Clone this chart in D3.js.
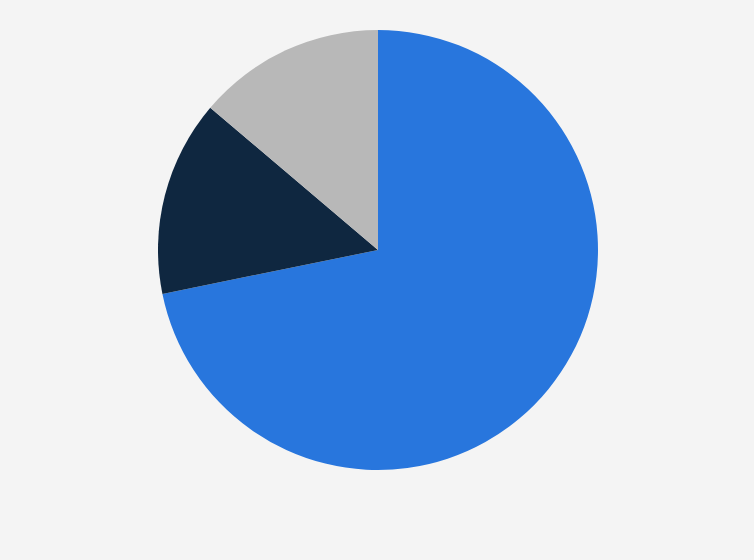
<!DOCTYPE html>
<html>
<head>
<meta charset="utf-8">
<script src="https://cdn.jsdelivr.net/npm/d3@7"></script>
<style>
  html, body { margin: 0; padding: 0; background: #f4f4f4; }
</style>
</head>
<body>
<svg id="chart"></svg>
<script>
const categories = ['Segment A', 'Segment B', 'Segment C'];
const values = [71.8, 14.4, 13.8];
const colors = ['#2876dd', '#0f2740', '#b8b8b8'];

const width = 754;
const height = 560;
const cx = 378;
const cy = 250;
const radius = 220;

const svg = d3.select('#chart')
  .attr('width', width)
  .attr('height', height)
  .style('background', '#f4f4f4');

const color = d3.scaleOrdinal().domain(categories).range(colors);

const pie = d3.pie().sort(null).value(d => d.value);
const arc = d3.arc().innerRadius(0).outerRadius(radius);

const data = categories.map((c, i) => ({ name: c, value: values[i] }));

const g = svg.append('g')
  .attr('transform', `translate(${cx},${cy})`);

g.selectAll('.slice')
  .data(pie(data))
  .enter()
  .append('path')
  .attr('class', 'slice')
  .attr('d', arc)
  .attr('fill', d => color(d.data.name));
</script>
</body>
</html>
